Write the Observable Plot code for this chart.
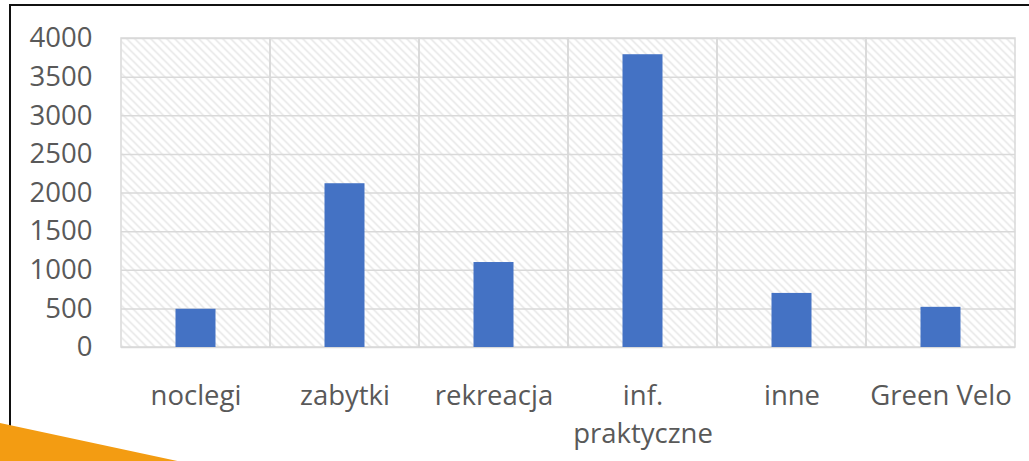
<!DOCTYPE html>
<html><head><meta charset="utf-8">
<script src="https://cdn.jsdelivr.net/npm/d3@7"></script>
<script src="https://cdn.jsdelivr.net/npm/@observablehq/plot@0.6"></script>
<style>
body{margin:0;background:#fff;}
#wrap{position:relative;width:1029px;height:461px;overflow:hidden;background:#fff;}
#chart{position:absolute;left:0;top:0;}
#border{position:absolute;left:9px;top:4px;width:1100px;height:600px;border-top:2px solid #111;border-left:2px solid #111;}
#tri{position:absolute;left:0;top:0;}
</style></head><body>
<div id="wrap"><div id="border"></div><div id="chart"></div>
<svg id="tri" width="1029" height="461"><polygon points="0,423 182,462 0,462" fill="#F39C12"/></svg>
</div>
<script>
const categories = ["noclegi", "zabytki", "rekreacja", "inf.\npraktyczne", "inne", "Green Velo"];
const values = [495, 2120, 1100, 3790, 700, 520];
const yTicks = [0, 500, 1000, 1500, 2000, 2500, 3000, 3500, 4000];

const data = categories.map((c, i) => ({category: c, value: values[i]}));

const plot = Plot.plot({
  width: 1029, height: 461,
  marginLeft: 121, marginRight: 14, marginTop: 38, marginBottom: 114,
  style: {fontFamily: "'Open Sans', sans-serif", fontSize: "27.5px", color: "#595959", background: "transparent", overflow: "visible"},
  x: {domain: categories, padding: 0, label: null},
  y: {domain: [0, 4000], label: null},
  marks: [
    Plot.frame({fill: "url(#hatch)", stroke: "none"}),
    Plot.cell(categories, {x: d => d, fill: "none", stroke: "#d9d9d9", strokeWidth: 1.5, inset: 0}),
    Plot.gridY(yTicks, {stroke: "#d9d9d9", strokeOpacity: 1, strokeWidth: 1.5}),
    Plot.barY(data, {x: "category", y: "value", fill: "#4472c4", insetLeft: 54.5, insetRight: 54.5}),
    Plot.axisY(yTicks, {tickSize: 0, tickPadding: 29, label: null, fontSize: 27.5, fill: "#595959", tickFormat: d => String(d)}),
    Plot.axisX({tickSize: 0, tickPadding: 31, label: null, lineHeight: 1.38, fontSize: 27.5, fill: "#595959"})
  ]
});

const ns = "http://www.w3.org/2000/svg";
const defs = document.createElementNS(ns, "defs");
defs.innerHTML = '<pattern id="hatch" patternUnits="userSpaceOnUse" width="8" height="8">' +
  '<path d="M-2,-2 L10,10 M-2,6 L2,10 M6,-2 L10,2" stroke="#e2e2e2" stroke-width="1.3"/></pattern>';
plot.insertBefore(defs, plot.firstChild);
document.getElementById("chart").appendChild(plot);
</script>
</body></html>
